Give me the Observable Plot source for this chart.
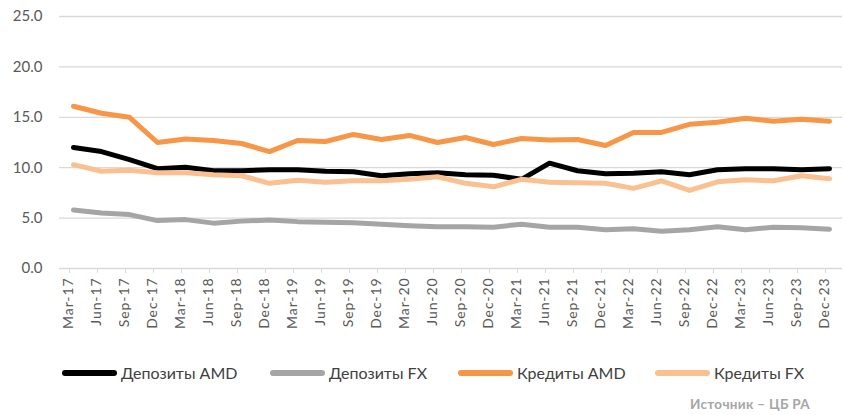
<!DOCTYPE html>
<html><head><meta charset="utf-8">
<script src="https://cdn.jsdelivr.net/npm/d3@7"></script>
<script src="https://cdn.jsdelivr.net/npm/@observablehq/plot@0.6"></script>
<style>
body{margin:0;background:#fff;font-family:Lato,"Noto Sans",sans-serif;}
#wrap{position:relative;width:845px;height:415px;overflow:hidden;}
#chart{position:absolute;left:0;top:0;}
#chart g[aria-label="x-axis tick label"] text{letter-spacing:0.9px;}
.lg{position:absolute;top:363px;display:flex;align-items:center;font-size:16px;color:#404040;white-space:nowrap;}
.sw{width:55px;height:6px;border-radius:3px;margin-right:4px;}
#src{position:absolute;top:396px;left:690px;font-size:13.5px;font-weight:bold;color:#a6a6a6;letter-spacing:0.3px;}
</style>
</head><body>
<div id="wrap"><div id="chart"></div><div id="legend"></div><div id="src">Источник – ЦБ РА</div></div>
<script>
const periods = ["Mar-17","Jun-17","Sep-17","Dec-17","Mar-18","Jun-18","Sep-18","Dec-18","Mar-19","Jun-19","Sep-19","Dec-19","Mar-20","Jun-20","Sep-20","Dec-20","Mar-21","Jun-21","Sep-21","Dec-21","Mar-22","Jun-22","Sep-22","Dec-22","Mar-23","Jun-23","Sep-23","Dec-23"];
const depositsAMD = [12.0,11.6,10.8,9.9,10.05,9.7,9.7,9.8,9.8,9.65,9.6,9.2,9.4,9.5,9.3,9.25,8.85,10.45,9.7,9.4,9.45,9.6,9.3,9.8,9.9,9.9,9.8,9.9];
const depositsFX = [5.8,5.5,5.35,4.75,4.85,4.5,4.7,4.8,4.65,4.6,4.55,4.4,4.25,4.15,4.15,4.1,4.4,4.1,4.1,3.85,3.95,3.7,3.85,4.15,3.85,4.1,4.05,3.9];
const loansAMD = [16.1,15.4,15.0,12.5,12.85,12.7,12.4,11.6,12.7,12.6,13.3,12.8,13.2,12.5,13.0,12.3,12.9,12.75,12.8,12.2,13.5,13.5,14.3,14.5,14.9,14.6,14.8,14.6];
const loansFX = [10.3,9.65,9.75,9.5,9.5,9.3,9.2,8.45,8.75,8.55,8.7,8.7,8.85,9.1,8.45,8.1,8.85,8.55,8.5,8.45,7.95,8.7,7.75,8.6,8.8,8.7,9.2,8.9];
const seriesNames = ["Депозиты AMD","Депозиты FX","Кредиты AMD","Кредиты FX"];
const seriesColors = ["#000000","#a5a5a5","#f79646","#fac08f"];
const yTicks = [0,5,10,15,20,25];

const seriesValues = [depositsAMD, depositsFX, loansAMD, loansFX];
const data = seriesNames.flatMap((name, s) => periods.map((p, i) => ({period: p, value: seriesValues[s][i], series: name})));

const chart = Plot.plot({
  width: 845, height: 340,
  marginLeft: 59, marginRight: 3, marginTop: 16, marginBottom: 72,
  style: {fontFamily: "Lato, 'Noto Sans', sans-serif", background: "#fff"},
  x: {type: "point", domain: periods, padding: 0.14, label: null},
  y: {domain: [0, 25], label: null},
  color: {domain: seriesNames, range: seriesColors},
  marks: [
    Plot.gridY(yTicks, {stroke: "#d9d9d9", strokeOpacity: 1, strokeWidth: 1.3}),
    Plot.axisY(yTicks, {tickSize: 0, tickPadding: 17, fontSize: 15, fill: "#595959", tickFormat: d => d.toFixed(1), label: null}),
    Plot.axisX({tickSize: 5, stroke: "#d9d9d9", strokeOpacity: 1, tickFormat: () => "", dx: -4, label: null}),
    Plot.axisX({tickRotate: -90, tickSize: 0, tickPadding: 9, fill: "#595959", fontSize: 14, dx: -5, label: null}),
    Plot.lineY(data, {x: "period", y: "value", z: "series", stroke: "series", strokeWidth: 5, strokeLinecap: "round", strokeLinejoin: "round"})
  ]
});
document.getElementById("chart").appendChild(chart);

const legendLeft = [62, 270, 458, 655];
const legend = document.getElementById("legend");
seriesNames.forEach((name, i) => {
  const item = document.createElement("div");
  item.className = "lg";
  item.style.left = legendLeft[i] + "px";
  item.innerHTML = `<div class="sw" style="background:${seriesColors[i]}"></div><span>${name}</span>`;
  legend.appendChild(item);
});
</script>
</body></html>
